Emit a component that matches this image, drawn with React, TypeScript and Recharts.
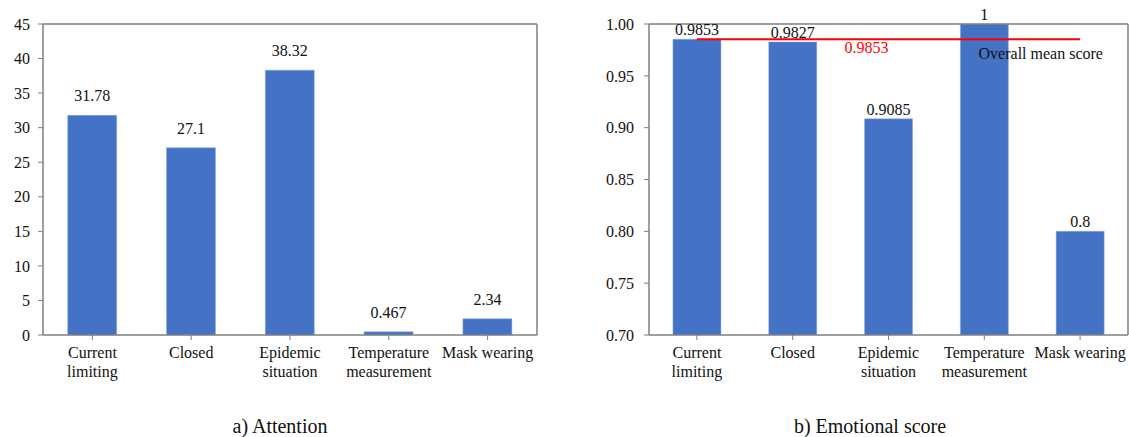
import { BarChart, Bar, XAxis, YAxis, LabelList, ReferenceLine } from "recharts";

const categories = ["Current limiting", "Closed", "Epidemic situation", "Temperature measurement", "Mask wearing"];
const categoryLines = [["Current", "limiting"], ["Closed"], ["Epidemic", "situation"], ["Temperature", "measurement"], ["Mask wearing"]];
const attention = [31.78, 27.1, 38.32, 0.467, 2.34];
const emotional = [0.9853, 0.9827, 0.9085, 1, 0.8];
const meanScore = 0.9853;
const attentionTicks = [0, 5, 10, 15, 20, 25, 30, 35, 40, 45];
const emotionalTicks = [0.7, 0.75, 0.8, 0.85, 0.9, 0.95, 1.0];

const attentionData = categories.map((name, i) => ({ name, value: attention[i] }));
const emotionalData = categories.map((name, i) => ({ name, value: emotional[i] }));

const FONT = "Liberation Serif";
const AXIS = "#7f7f7f";
const BLUE = "#4472C4";

const CategoryTick = (props: any) => {
    const { x, y, payload } = props;
    const lines = categoryLines[categories.indexOf(payload.value)] || [payload.value];
    return (
        <text x={x} y={y + 16} textAnchor="middle" fontSize={16} fontFamily={FONT} fill="#111">
            {lines.map((l, i) => (
                <tspan key={i} x={x} dy={i === 0 ? 0 : 19}>{l}</tspan>
            ))}
        </text>
    );
};

const MeanLabel = (props: any) => {
    const { viewBox } = props;
    const { x, y, width } = viewBox;
    return (
        <g fontFamily={FONT} fontSize={16}>
            <text x={x + width * 0.5} y={y + 14} textAnchor="end" fill="#ff0000">{meanScore}</text>
            <text x={x + width * 0.735} y={y + 20} textAnchor="start" fill="#111">Overall mean score</text>
        </g>
    );
};

const tickStyle = { fontSize: 16, fontFamily: FONT, fill: "#111" };
const frame = { stroke: AXIS, strokeWidth: 1.5 };

export default function App() {
    return (
        <div style={{ position: "absolute", left: 0, top: 0, width: 1129, height: 437, background: "#fff", fontFamily: FONT }}>
            <div style={{ position: "absolute", left: 0, top: 0 }}>
                <BarChart width={560} height={400} data={attentionData} margin={{ top: 24, right: 23, bottom: 15, left: 8 }} barCategoryGap="25%">
                    <XAxis dataKey="name" interval={0} height={50} tick={<CategoryTick />} tickSize={5} axisLine={frame} tickLine={{ stroke: AXIS }} />
                    <YAxis width={35} domain={[0, 45]} ticks={attentionTicks} interval={0} tick={tickStyle} tickSize={5} tickMargin={8} axisLine={frame} tickLine={{ stroke: AXIS }} />
                    <ReferenceLine y={45} {...frame} />
                    <ReferenceLine x={categories[categories.length - 1]} position="end" {...frame} />
                    <Bar dataKey="value" fill={BLUE} stroke="#8faadc" strokeWidth={0.5} isAnimationActive={false}>
                        <LabelList dataKey="value" position="top" offset={14} style={{ fontSize: 16, fontFamily: FONT, fill: "#111" }} />
                    </Bar>
                </BarChart>
            </div>
            <div style={{ position: "absolute", left: 590, top: 0 }}>
                <BarChart width={539} height={400} data={emotionalData} margin={{ top: 24, right: 1, bottom: 15, left: 14 }} barCategoryGap="25%">
                    <XAxis dataKey="name" interval={0} height={50} tick={<CategoryTick />} tickSize={5} axisLine={frame} tickLine={{ stroke: AXIS }} />
                    <YAxis width={45} domain={[0.7, 1.0]} ticks={emotionalTicks} interval={0} tick={tickStyle} tickSize={5} tickMargin={10} tickFormatter={(v: number) => v.toFixed(2)} axisLine={frame} tickLine={{ stroke: AXIS }} allowDataOverflow />
                    <ReferenceLine y={1.0} {...frame} />
                    <ReferenceLine x={categories[categories.length - 1]} position="end" {...frame} />
                    <Bar dataKey="value" fill={BLUE} stroke="#8faadc" strokeWidth={0.5} isAnimationActive={false}>
                        <LabelList dataKey="value" position="top" offset={4} style={{ fontSize: 16, fontFamily: FONT, fill: "#111" }} />
                    </Bar>
                    <ReferenceLine
                        segment={[{ x: categories[0], y: meanScore }, { x: categories[categories.length - 1], y: meanScore }]}
                        stroke="#ff0000"
                        strokeWidth={2}
                        label={<MeanLabel />}
                    />
                </BarChart>
            </div>
            <div style={{ position: "absolute", left: 180, width: 200, top: 415, textAlign: "center", fontSize: 20, color: "#111" }}>a) Attention</div>
            <div style={{ position: "absolute", left: 770, width: 200, top: 415, textAlign: "center", fontSize: 20, color: "#111" }}>b) Emotional score</div>
        </div>
    );
}
